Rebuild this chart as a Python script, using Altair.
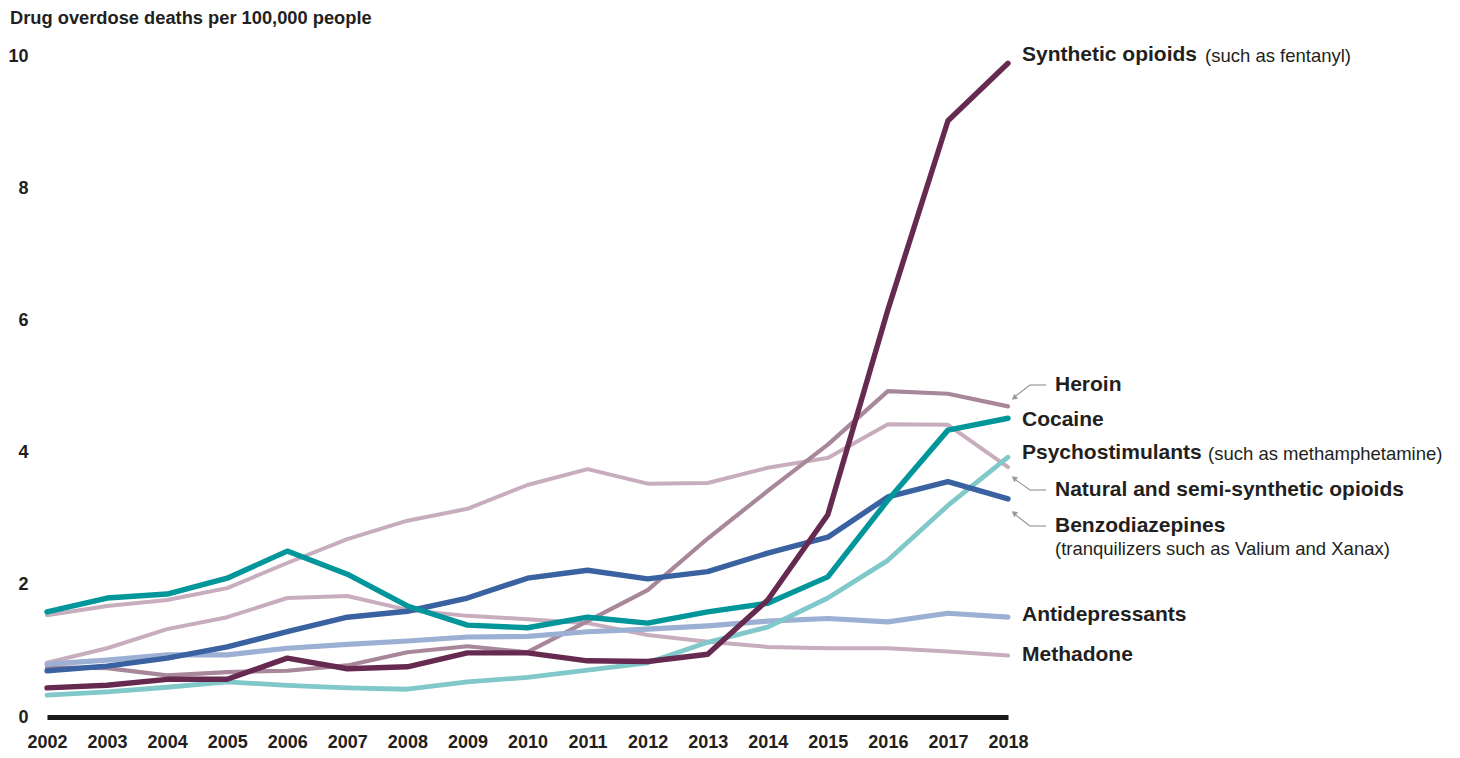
import altair as alt
import pandas as pd

years = list(range(2002, 2019))

synthetic = [0.44, 0.48, 0.57, 0.57, 0.89, 0.73, 0.76, 0.97, 0.97, 0.85, 0.84, 0.95, 1.77, 3.06, 6.16, 9.02, 9.89]
heroin = [0.75, 0.74, 0.63, 0.68, 0.70, 0.78, 0.98, 1.07, 0.98, 1.45, 1.92, 2.70, 3.42, 4.12, 4.93, 4.89, 4.70]
cocaine = [1.59, 1.80, 1.86, 2.10, 2.51, 2.16, 1.68, 1.39, 1.35, 1.51, 1.42, 1.59, 1.72, 2.12, 3.28, 4.34, 4.52]
psycho = [0.33, 0.38, 0.45, 0.53, 0.48, 0.44, 0.42, 0.53, 0.60, 0.71, 0.82, 1.13, 1.36, 1.80, 2.37, 3.20, 3.93]
natural = [1.54, 1.68, 1.77, 1.95, 2.33, 2.69, 2.97, 3.15, 3.51, 3.75, 3.53, 3.54, 3.77, 3.92, 4.43, 4.42, 3.78]
benzo = [0.70, 0.77, 0.89, 1.06, 1.29, 1.51, 1.60, 1.80, 2.10, 2.22, 2.09, 2.20, 2.48, 2.72, 3.33, 3.56, 3.30]
antidep = [0.80, 0.86, 0.94, 0.94, 1.04, 1.10, 1.15, 1.21, 1.22, 1.29, 1.33, 1.38, 1.45, 1.49, 1.44, 1.57, 1.51]
methadone = [0.82, 1.04, 1.33, 1.51, 1.80, 1.83, 1.62, 1.53, 1.48, 1.42, 1.24, 1.14, 1.06, 1.04, 1.04, 0.99, 0.93]

series = [
    ("Methadone", methadone, "#c7adbd", 4.0),
    ("Natural and semi-synthetic opioids", natural, "#c7adbd", 4.0),
    ("Heroin", heroin, "#a8879b", 4.2),
    ("Antidepressants", antidep, "#9cb0d4", 5.2),
    ("Psychostimulants", psycho, "#80c8ca", 4.8),
    ("Benzodiazepines", benzo, "#3a62a0", 5.4),
    ("Cocaine", cocaine, "#00969a", 5.4),
    ("Synthetic opioids", synthetic, "#662a50", 5.4),
]

TXT = "#231f20"
FONT = "Liberation Sans"

x_enc = alt.X("year:Q", scale=alt.Scale(domain=[2002, 2018], nice=False, zero=False),
              axis=alt.Axis(values=years, format="d", title=None, grid=False, ticks=False,
                            domain=True, domainColor="#1a1a1a", domainWidth=5,
                            labelFontSize=18, labelFontWeight="bold", labelColor=TXT,
                            labelFont=FONT, labelPadding=16, labelFlush=False))
y_enc = alt.Y("value:Q", scale=alt.Scale(domain=[0, 10], nice=False),
              axis=alt.Axis(values=[0, 2, 4, 6, 8, 10], format="d", title=None, grid=False,
                            ticks=False, domain=False, labelFontSize=18, labelFontWeight="bold",
                            labelColor=TXT, labelFont=FONT, labelPadding=19))

layers = []
for i, (name, vals, col, sw) in enumerate(series):
    df = pd.DataFrame({"year": years, "value": vals, "series": name})
    enc = dict(x=x_enc, y=y_enc) if i == 0 else dict(x="year:Q", y="value:Q")
    layers.append(alt.Chart(df).mark_line(color=col, strokeWidth=sw, strokeCap="round",
                                          strokeJoin="round").encode(**enc))

# annotation texts (pixel positions relative to plot origin)
bold_labels = pd.DataFrame({
    "t": ["Synthetic opioids", "Heroin", "Cocaine", "Psychostimulants",
          "Natural and semi-synthetic opioids", "Benzodiazepines", "Antidepressants", "Methadone"],
    "px": [975, 1008, 975, 975, 1008, 1008, 975, 975],
    "py": [-1, 329, 364, 397, 434, 470, 559, 599],
})
normal_labels = pd.DataFrame({
    "t": ["(such as fentanyl)", "(such as methamphetamine)", "(tranquilizers such as Valium and Xanax)"],
    "px": [1158, 1161, 1008],
    "py": [0, 398, 493],
})
layers.append(alt.Chart(bold_labels).mark_text(align="left", baseline="middle", fontSize=21,
                                               fontWeight="bold", font=FONT, color=TXT).encode(
    x=alt.X("px:Q", scale=None), y=alt.Y("py:Q", scale=None), text="t:N"))
layers.append(alt.Chart(normal_labels).mark_text(align="left", baseline="middle", fontSize=18.5,
                                                 font=FONT, color=TXT).encode(
    x=alt.X("px:Q", scale=None), y=alt.Y("py:Q", scale=None), text="t:N"))

arrows = pd.DataFrame({
    "x1": [999, 983, 999, 983, 999, 983],
    "y1": [329, 329, 434, 434, 470, 470],
    "x2": [983, 966, 983, 966, 983, 966],
    "y2": [329, 342, 434, 422, 470, 457],
})
layers.append(alt.Chart(arrows).mark_rule(color="#9a9a9a", strokeWidth=1.2).encode(
    x=alt.X("x1:Q", scale=None), y=alt.Y("y1:Q", scale=None),
    x2="x2:Q", y2="y2:Q"))
heads = pd.DataFrame({"px": [967, 967, 967], "py": [342, 422, 457], "ang": [232, 308, 307]})
layers.append(alt.Chart(heads).mark_point(shape="triangle-up", filled=True, color="#9a9a9a",
                                          size=40, opacity=1).encode(
    x=alt.X("px:Q", scale=None), y=alt.Y("py:Q", scale=None),
    angle=alt.Angle("ang:Q", scale=None)))

title_df = pd.DataFrame({"t": ["Drug overdose deaths per 100,000 people"]})
layers.append(alt.Chart(title_df).mark_text(align="left", baseline="middle", fontSize=18.3,
                                            fontWeight="bold", font=FONT, color=TXT).encode(
    x=alt.value(-37), y=alt.value(-37), text="t:N"))

chart = alt.layer(*layers).properties(
    width=961, height=661,
    padding={"left": 39, "top": 48, "right": 444, "bottom": 40},
    autosize=alt.AutoSizeParams(type="none"),
    background="white",
).configure_view(strokeWidth=0, stroke=None)

chart.save("out.html", embed_options={"renderer": "svg", "actions": False})
